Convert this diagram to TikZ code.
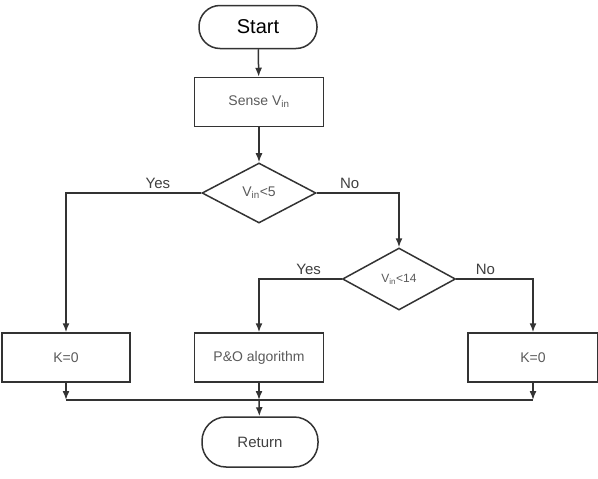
\documentclass[tikz,border=0pt]{standalone}
\usepackage{fontspec}
\setmainfont{Liberation Sans}
\usetikzlibrary{shapes.geometric}
\usetikzlibrary{arrows.meta}

\definecolor{edgegray}{HTML}{333333}
\definecolor{textgray}{HTML}{5A5A5A}

\begin{document}
\begin{tikzpicture}[x=1pt, y=-1pt, >={Latex[length=9pt,width=7pt]}]
				\useasboundingbox (0,0) rectangle (598,479);
				\tikzset{
					term/.style={draw=edgegray, line width=1.5pt, rounded corners=21pt, minimum width=118pt, minimum height=43pt},
					proc/.style={draw=edgegray, line width=1.5pt, minimum width=129pt, minimum height=49pt, text=textgray, font=\fontsize{14}{16}\selectfont},
					cond/.style={diamond, draw=edgegray, line width=1.5pt, minimum width=114pt, minimum height=60pt, inner sep=0pt, text=textgray, font=\fontsize{14}{16}\selectfont},
					wire/.style={draw=edgegray, line width=1.5pt},
					answer/.style={text=black!75, font=\fontsize{15}{17}\selectfont}
				}
					\node[term, font=\fontsize{20}{22}\selectfont] (start) at (258,27) {Start};
					\node[proc] (sense) at (259,102) {Sense V\textsubscript{in}};
					\node[cond] (check5) at (259,193) {V\textsubscript{in}<5};
					\node[cond, minimum width=113pt, minimum height=62pt, font=\fontsize{12}{14}\selectfont] (check14) at (399,279) {V\textsubscript{in}<14};
					\node[proc, minimum width=128pt] (zeroL) at (66,357.5) {K=0};
					\node[proc] (po) at (259,357.5) {P\&O algorithm};
					\node[proc, minimum width=130pt] (zeroR) at (533,357.5) {K=0};
					\node[term, font=\fontsize{15}{17}\selectfont, text=black!75, minimum height=50pt, minimum width=116pt, rounded corners=24pt] (return) at (260,442) {Return};
					
					\coordinate (busL) at (66,400);
					\coordinate (busM) at (259,400);
					\coordinate (busR) at (533,400);
					
					\draw[wire,->] (start)--(sense);
					\draw[wire,->] (sense)--(check5);
					
					\draw[wire,->] (check5.west)-|(zeroL.north) node[pos=0.16, above, answer] {Yes};
					\draw[wire,->] (check5.east)-|(check14.north) node[pos=0.2, above, answer] {No};
					
					\draw[wire,->] (check14.west)-|(po.north) node[pos=0.2, above, answer] {Yes};
					\draw[wire,->] (check14.east)-|(zeroR.north) node[pos=0.19, above, answer] {No};
					
					\draw[wire,->] (zeroL)--(busL);
					\draw[wire,->] (po)--(busM);
					\draw[wire,->] (zeroR)--(busR);
					\draw[wire] (busL)--(busR);
					\draw[wire,->] (busM)--(return);
\end{tikzpicture}
\end{document}
